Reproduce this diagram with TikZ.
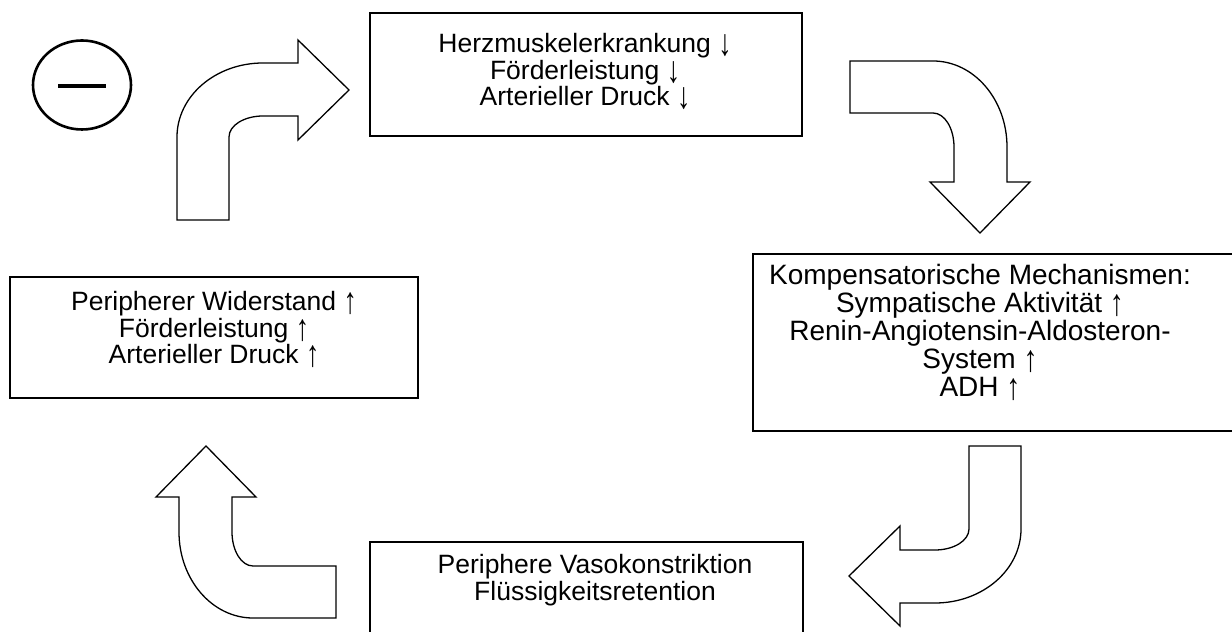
\documentclass[tikz,border=0pt]{standalone}
\usepackage{fontspec}
\usepackage{graphicx}
\setmainfont{Liberation Sans}
\usetikzlibrary{shapes.geometric}
\newcommand\arrup{\smash{\raisebox{-3pt}{\resizebox*{\width}{22pt}{↑}}}}
\newcommand\arrdn{\smash{\raisebox{-3pt}{\resizebox*{\width}{22pt}{↓}}}}
\tikzset{
  bentarrow/.pic={
    \draw[arrowline] (-86,-83) -- (-34,-83) -- (-34,0)
      arc[start angle=180,end angle=90,x radius=34,y radius=21]
      -- (35,21) -- (35,-3) -- (86,47) -- (35,97) -- (35,74) -- (0,74)
      arc[start angle=90,end angle=180,x radius=86,y radius=74] -- cycle;
  }
}
\begin{document}
\begin{tikzpicture}[x=1pt,y=1pt,
  frame/.style={line width=1.4pt},
  arrowline/.style={line width=1.3pt,line join=miter},
  txt/.style={align=center,inner sep=0pt,
    font=\fontsize{26.5}{26.5}\selectfont}]
\clip (0,0) rectangle (1232,632);
% boxes
\draw[frame] (370,496) rectangle (802,619);
\node[txt] (herz) at (585,562)
  {Herzmuskelerkrankung \arrdn\\Förderleistung \arrdn\\Arterieller Druck \arrdn};
\draw[frame] (753,201) rectangle (1240,378);
\node[txt,font=\fontsize{28}{28}\selectfont] (komp) at (980,302)
  {Kompensatorische Mechanismen:\\Sympatische Aktivität \arrup\\
   Renin-Angiotensin-Aldosteron-\\System \arrup\\ADH \arrup};
\draw[frame] (370,-10) rectangle (803,90);
\node[txt] (vaso) at (595,52)
  {Periphere Vasokonstriktion\\Flüssigkeitsretention};
\draw[frame] (10,234) rectangle (418,355);
\node[txt] (wid) at (214,304)
  {Peripherer Widerstand \arrup\\Förderleistung \arrup\\Arterieller Druck \arrup};
% bent arrows
\pic at (263,495) {bentarrow};
\pic[rotate=-90] at (933,485) {bentarrow};
\pic[rotate=180] at (935,103) {bentarrow};
\pic[rotate=90] at (253,100) {bentarrow};
% minus sign
\node[draw,ellipse,line width=2.6pt,minimum width=98,minimum height=89]
  (neg) at (82,547) {};
\draw[line width=3.5pt] ([xshift=-24pt,yshift=-1pt]neg.center)
  -- ([xshift=24pt,yshift=-1pt]neg.center);
\end{tikzpicture}
\end{document}
